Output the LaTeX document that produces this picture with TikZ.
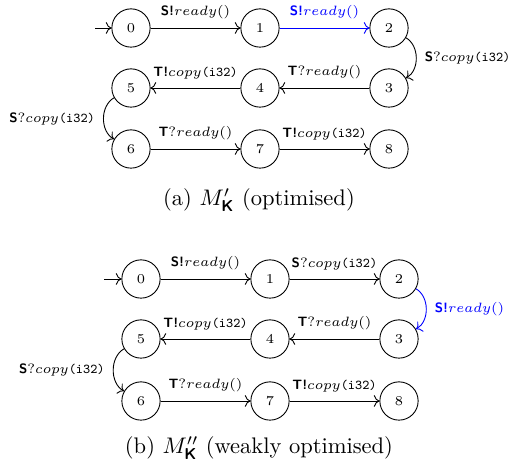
\documentclass[tikz,border=0pt]{standalone}
\usepackage{amsmath}
\usetikzlibrary{arrows.meta}

\newcommand{\roleS}{\textsf{\textbf{S}}}
\newcommand{\roleT}{\textsf{\textbf{T}}}
\newcommand{\snd}{\textsf{\textbf{!}}}
\newcommand{\rdy}{$ready()$}
\newcommand{\cpy}{$copy$\texttt{(i32)}}

\begin{document}
\begin{tikzpicture}[x=0.444pt, y=0.444pt,
    loc/.style={draw, circle, minimum size=17pt, inner sep=0pt, font=\fontsize{6.5}{8}\selectfont},
    trans/.style={->},
    lbl/.style={font=\fontsize{6}{7}\selectfont, outer sep=0.5pt}]

    \useasboundingbox (0,0) rectangle (508,466);

    % (a) 最適化
    \foreach \i/\x/\y in {0/131/438, 1/260/438, 2/389/438,
                          5/131/378, 4/260/378, 3/389/378,
                          6/131/317, 7/260/317, 8/389/317} {
        \node[loc] (a\i) at (\x,\y) {$\i$};
    }
    \coordinate (ainit) at (95,438);

    \draw[trans] (ainit) -- (a0);
    \draw[trans] (a0) -- (a1) node[lbl, midway, above] {\roleS\snd\rdy};
    \draw[trans, blue] (a1) -- (a2) node[lbl, midway, above] {\roleS\snd\rdy};
    \draw[trans] (a2) to[bend left=60] node[lbl, right] {\roleS?\cpy} (a3);
    \draw[trans] (a3) -- (a4) node[lbl, midway, above] {\roleT?\rdy};
    \draw[trans] (a4) -- (a5) node[lbl, midway, above] {\roleT\snd\cpy};
    \draw[trans] (a5) to[bend right=60] node[lbl, left] {\roleS?\cpy} (a6);
    \draw[trans] (a6) -- (a7) node[lbl, midway, above] {\roleT?\rdy};
    \draw[trans] (a7) -- (a8) node[lbl, midway, above] {\roleT\snd\cpy};

    \node (capa) at (259,266) {(a) $M'_{\text{\textsf{\textbf{K}}}}$ (optimised)};

    % (b) 弱い最適化
    \foreach \i/\x/\y in {0/141/187, 1/270/187, 2/399/187,
                          5/141/127, 4/270/127, 3/399/127,
                          6/141/65, 7/270/65, 8/399/65} {
        \node[loc] (b\i) at (\x,\y) {$\i$};
    }
    \coordinate (binit) at (104,187);

    \draw[trans] (binit) -- (b0);
    \draw[trans] (b0) -- (b1) node[lbl, midway, above] {\roleS\snd\rdy};
    \draw[trans] (b1) -- (b2) node[lbl, midway, above] {\roleS?\cpy};
    \draw[trans, blue] (b2) to[bend left=60] node[lbl, right] {\roleS\snd\rdy} (b3);
    \draw[trans] (b3) -- (b4) node[lbl, midway, above] {\roleT?\rdy};
    \draw[trans] (b4) -- (b5) node[lbl, midway, above] {\roleT\snd\cpy};
    \draw[trans] (b5) to[bend right=60] node[lbl, left] {\roleS?\cpy} (b6);
    \draw[trans] (b6) -- (b7) node[lbl, midway, above] {\roleT?\rdy};
    \draw[trans] (b7) -- (b8) node[lbl, midway, above] {\roleT\snd\cpy};

    \node (capb) at (259,18) {(b) $M''_{\text{\textsf{\textbf{K}}}}$ (weakly optimised)};

\end{tikzpicture}
\end{document}
